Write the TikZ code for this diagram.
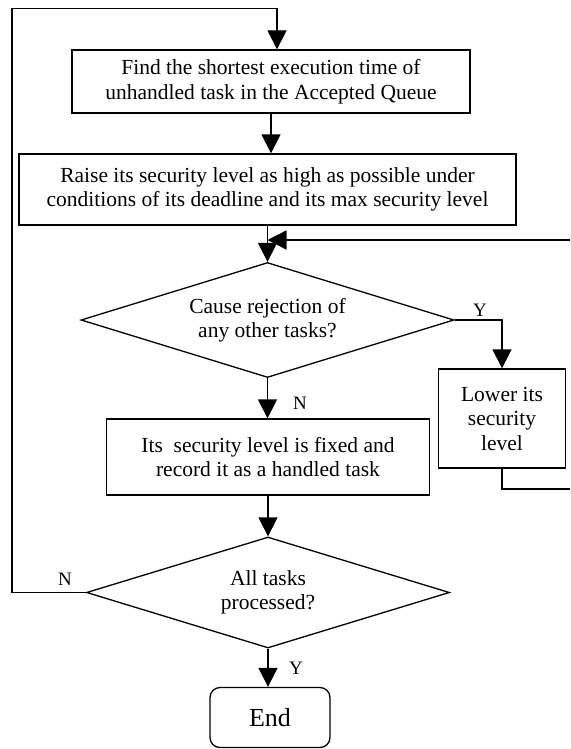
\documentclass[tikz,border=0pt]{standalone}
\usepackage{fontspec}
\setmainfont{Liberation Serif}
\usetikzlibrary{shapes.geometric,arrows.meta}
\begin{document}
\begin{tikzpicture}[x=1pt,y=-1pt,
  line width=1.3pt,
  txt/.style={font=\fontsize{21.5}{24.5}\selectfont, align=center},
  procbox/.style={draw, rectangle, txt, inner sep=0pt},
  decision/.style={draw, diamond, txt, inner sep=0pt},
  lab/.style={font=\fontsize{19}{19}\selectfont, inner sep=0pt},
  arr/.style={-{Triangle[length=19pt,width=19pt]}}
]
\useasboundingbox (0,0) rectangle (570,749);

\node[procbox, minimum width=398pt, minimum height=63pt] (box1) at (271,81.5)
  {Find the shortest execution time of\\unhandled task in the Accepted Queue};
\node[procbox, minimum width=497pt, minimum height=71pt] (box2) at (267.5,189.5)
  {Raise its security level as high as possible under\\conditions of its deadline and its max security level};
\node[decision, minimum width=373pt, minimum height=115pt, aspect=3.25] (d1) at (267.5,320)
  {Cause rejection of\\any other tasks?};
\node[procbox, minimum width=127pt, minimum height=99pt] (low) at (502,418.5)
  {Lower its\\security\\level};
\node[procbox, minimum width=323pt, minimum height=76pt] (box3) at (268,457)
  {Its\ \ security level is fixed and\\record it as a handled task};
\node[decision, minimum width=363pt, minimum height=111pt, aspect=3.27] (d2) at (268,592.5)
  {All tasks\\processed?};
\node[draw, rectangle, rounded corners=10pt, minimum width=120pt, minimum height=60pt,
  inner sep=0pt, font=\fontsize{26}{26}\selectfont] (endb) at (270,717.5) {End};

% labels
\node[lab] (yl1) at (480,310) {Y};
\node[lab] (nl1) at (300,403) {N};
\node[lab] (nl2) at (65,579) {N};
\node[lab] (yl2) at (296,668) {Y};

% coordinates for loops
\coordinate (leftB) at (12,592.5);
\coordinate (leftT) at (12,8.5);
\coordinate (topR) at (277,8.5);
\coordinate (fbR) at (570,240);
\coordinate (fbB) at (570,489);

% connectors
\draw[arr] (d2.west) -- (leftB) -- (leftT) -- (topR) -- (topR |- box1.north);
\draw[arr] (box1.south) -- (box1.south |- box2.north);
\draw[arr] (box2.south -| d1.north) -- (d1.north);
\draw[arr] (fbR) -- (d1.north |- fbR);
\draw[arr] (d1.east) -| (low.north);
\draw (low.south) |- (fbB);
\draw[arr] (d1.south) -- (d1.south |- box3.north);
\draw[arr] (box3.south -| d2.north) -- (d2.north);
\draw[arr] (d2.south) -- (d2.south |- endb.north);
\end{tikzpicture}
\end{document}
